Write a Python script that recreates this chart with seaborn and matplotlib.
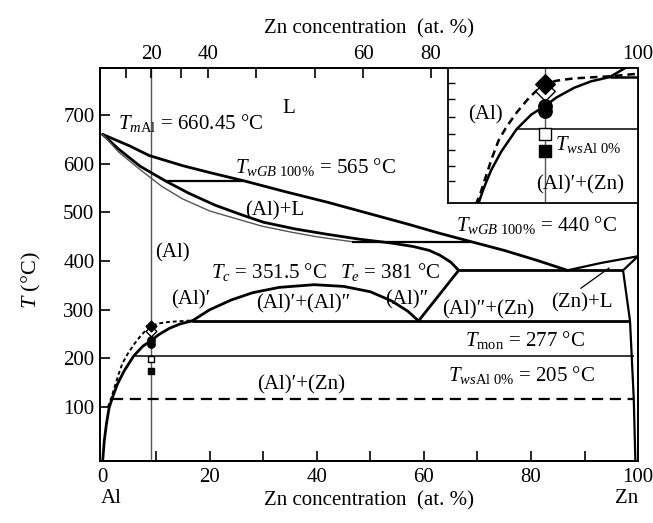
import numpy as np
import pandas as pd
import matplotlib
matplotlib.use("Agg")
import matplotlib.pyplot as plt
import matplotlib.transforms as mtrans
import seaborn as sns

# ---------------- data (Zn at.% , T in °C) ----------------
liq_c = [0, 5, 8.7, 15, 20, 26.4, 34, 42, 50, 57, 63, 68.8, 75, 81, 86.8]
liq_t = [660.45, 637, 617, 596, 582, 565, 543, 521, 497, 476, 457, 440, 422, 402, 381]

sol_c = [0, 3, 7, 11.7, 16, 21, 26, 30, 36, 42, 48, 54, 58, 61, 63, 65, 66.5]
sol_t = [660.45, 630, 595, 565, 540, 515, 495, 480, 466, 455, 445, 437, 430, 422, 412, 398, 381]

gb_c = [0, 3, 7, 11, 14.9, 20, 25, 29.7, 35, 40, 46.5]
gb_t = [660.45, 624, 588, 554, 528, 503, 487, 472, 460, 450, 440]

dome_c = [16.7, 20, 24, 28, 33, 39.5, 45, 50, 54, 57, 59]
dome_t = [277, 300, 320, 335, 346, 351.5, 348, 337, 318, 297, 277]

alpp_c = [59, 66.5]
alpp_t = [277, 381]

znliq_c = [86.8, 93, 100]
znliq_t = [381, 396, 410]

znsol_c = [100, 97.2, 98.5, 99.2, 99.5]
znsol_t = [410, 381, 277, 117, -11]

solv_c = [0, 0.3, 0.7, 1.2, 1.9, 2.8, 4.0, 5.8, 7.5, 9.1, 10.5, 12.5, 14.5, 16.7]
solv_t = [-11, 30, 65, 98, 122, 148, 174, 205, 225, 237, 249, 262, 271, 277]

dot_c = [1.0, 1.6, 2.2, 2.9, 3.7, 4.6, 5.8, 7.0, 8.0, 9.1, 10.5, 12.4, 14.5, 16.7, 18.5, 20.5]
dot_t = [100, 118, 140, 165, 190, 208, 228, 245, 257, 267, 272, 275, 276.5, 278, 280, 282]

# horizontal isotherms: (T, c_start, c_end)
iso_565 = (565, 11.7, 26.4)
iso_440 = (440, 46.5, 68.8)
iso_eut = (381, 66.5, 97.2)
iso_mon = (277, 16.7, 98.5)
iso_ws = (205, 5.8, 99.2)
iso_dash = (117, 1.7, 99.2)

comp_c = 9.1  # sample composition line

mk_kind = ["open_d", "fill_d", "fill_c", "fill_c", "open_s", "fill_s"]
mk_t = [257, 267, 237, 230, 198, 174]

bottom_major = [0, 20, 40, 60, 80, 100]
bottom_minor = [10, 30, 50, 70, 90]
top_tick_c = [4.3, 9.1, 14.7, 19.7, 28.6, 39.6, 48.7, 61.3, 100]
top_tick_lab = ["", "20", "", "40", "", "", "60", "80", "100"]
y_ticks = [100, 200, 300, 400, 500, 600, 700]
inset_yticks = [133, 154, 176, 198, 222, 246, 269]

# ---------------- style ----------------
sns.set_theme(style="ticks")
plt.rcParams['font.family'] = ['Liberation Serif', 'DejaVu Serif']
plt.rcParams.update({
    'mathtext.fontset': 'custom',
    'mathtext.rm': 'Liberation Serif',
    'mathtext.it': 'Liberation Serif:italic',
    'mathtext.bf': 'Liberation Serif:bold',
    'axes.edgecolor': 'black',
    'axes.linewidth': 1.3,
    'xtick.color': 'black',
    'ytick.color': 'black',
    'text.color': 'black',
    'axes.labelcolor': 'black',
})
FS = 15
THICK = 2.0

fig = plt.figure(figsize=(6.53, 5.23), dpi=100)
ax = fig.add_axes([0.1531, 0.1185, 0.8240, 0.7515])


def curve(axis, c, t, lw=THICK, color='black', ls='-', z=3):
    sns.lineplot(x=c, y=t, sort=False, estimator=None, ax=axis,
                 color=color, linewidth=lw, linestyle=ls, zorder=z)


def iso(axis, spec, lw=THICK, color='black', ls='-'):
    T, a, b = spec
    axis.hlines(T, a, b, colors=color, linewidth=lw, linestyles=ls, zorder=3)


def markers(axis, scale):
    df = pd.DataFrame({'c': [comp_c] * len(mk_t), 't': mk_t, 'k': mk_kind})
    styles = {
        'open_d': dict(marker='D', fc='white', s=30),
        'fill_d': dict(marker='D', fc='black', s=30),
        'fill_c': dict(marker='o', fc='black', s=28),
        'open_s': dict(marker='s', fc='white', s=22),
        'fill_s': dict(marker='s', fc='black', s=22),
    }
    for i, row in df.iterrows():
        st = styles[row.k]
        sns.scatterplot(x=[row.c], y=[row.t], ax=axis, marker=st['marker'],
                        s=st['s'] * scale, color=st['fc'], edgecolor='black',
                        linewidth=1.0, zorder=6 + i, legend=False)


# ---------------- main diagram ----------------
curve(ax, liq_c, liq_t)
curve(ax, sol_c, sol_t)
curve(ax, gb_c, gb_t, lw=1.0, color='#555555')
curve(ax, dome_c, dome_t)
curve(ax, alpp_c, alpp_t)
curve(ax, znliq_c, znliq_t, lw=1.6)
curve(ax, znsol_c, znsol_t, lw=1.6)
curve(ax, solv_c, solv_t)
n_main = sum(1 for c in dot_c if c <= iso_mon[1])
curve(ax, dot_c[:n_main], dot_t[:n_main], lw=1.4, ls=(0, (2.0, 1.5)))
iso(ax, iso_565, lw=1.6)
iso(ax, iso_440, lw=1.6)
iso(ax, iso_eut)
iso(ax, iso_mon)
iso(ax, iso_ws, lw=1.1)
iso(ax, iso_dash, lw=1.6, ls=(0, (5, 3)))
ax.axvline(comp_c, color='#555555', linewidth=1.0, zorder=2)
# leader line for (Zn)+L
curve(ax, [89.3, 94.6], [344, 386], lw=0.9)
markers(ax, 1.0)

ax.set_xlim(-0.5, 100)
ax.set_ylim(-11, 797)
ax.set_xticks(bottom_major)
ax.set_xticklabels([str(v) for v in bottom_major])
ax.set_xticks(bottom_minor, minor=True)
ax.set_yticks(y_ticks)
ax.set_yticklabels([str(v) for v in y_ticks])
ax.tick_params(axis='both', which='both', direction='in', length=7, width=1.2,
               labelsize=FS, top=False, right=False)
ax.tick_params(axis='x', which='major', pad=5)
ax.tick_params(axis='y', pad=4)
ax.set_ylabel("$T$ (°C)", fontsize=FS + 1, labelpad=12)
ax.yaxis.set_label_coords(-0.105, 0.46)
ax.set_xlabel("Zn concentration  (at. %)", fontsize=FS, labelpad=3)
trans = mtrans.blended_transform_factory(ax.transData, ax.transAxes)
ax.text(-0.3, -0.095, "Al", transform=trans, ha='left', va='center', fontsize=FS)
ax.text(100, -0.095, "Zn", transform=trans, ha='right', va='center', fontsize=FS)
for s in ax.spines.values():
    s.set_linewidth(1.3)

ax2 = ax.twiny()
ax2.set_xlim(ax.get_xlim())
ax2.set_xticks(top_tick_c)
ax2.set_xticklabels(top_tick_lab)
ax2.tick_params(axis='x', direction='in', length=7, width=1.2, labelsize=FS, pad=3)
ax2.set_xlabel("Zn concentration  (at. %)", fontsize=FS, labelpad=8)
ax2.grid(False)

# annotations
txt = [
    (34.8, 714, "L", 'center'),
    (2.8, 683, r"$T_{m\mathrm{Al}}$ = 660.45 °C", 'left'),
    (24.7, 593, r"$T_{wGB\ \mathrm{100\%}}$ = 565 °C", 'left'),
    (32.2, 504, "(Al)+L", 'center'),
    (13.0, 416, "(Al)", 'center'),
    (31.1, 377, r"$T_c$ = 351.5 °C", 'center'),
    (53.7, 377, r"$T_e$ = 381 °C", 'center'),
    (16.4, 320, "(Al)\u2032", 'center'),
    (37.5, 313, "(Al)\u2032+(Al)\u2033", 'center'),
    (56.9, 320, "(Al)\u2033", 'center'),
    (72.1, 299, "(Al)\u2033+(Zn)", 'center'),
    (89.6, 315, "(Zn)+L", 'center'),
    (66.0, 474, r"$T_{wGB\ \mathrm{100\%}}$ = 440 °C", 'left'),
    (78.8, 237, r"$T_{\mathrm{mon}}$ = 277 °C", 'center'),
    (78.3, 166, r"$T_{ws\mathrm{Al\ 0\%}}$ = 205 °C", 'center'),
    (37.0, 145, "(Al)\u2032+(Zn)", 'center'),
]
for x, y, s, ha in txt:
    ax.text(x, y, s, ha=ha, va='center', fontsize=FS, zorder=8)

# ---------------- inset (magnified low-Zn solvus region) ----------------
axi = fig.add_axes([0.6861, 0.6119, 0.2910, 0.2581])
axi.set_facecolor('white')
curve(axi, solv_c, solv_t, lw=1.8)
curve(axi, dot_c, dot_t, lw=1.8, ls=(0, (3, 2)))
curve(axi, dome_c, dome_t, lw=1.8)
iso(axi, iso_mon, lw=1.8)
iso(axi, iso_ws, lw=1.1)
axi.axvline(comp_c, color='#555555', linewidth=1.0, zorder=2)
markers(axi, 3.3)
axi.set_xlim(-2.25, 20.0)
axi.set_ylim(102.5, 289.5)
axi.set_xticks([])
axi.set_yticks(inset_yticks)
axi.set_yticklabels([])
axi.tick_params(axis='y', direction='in', length=5, width=1.0, left=True)
axi.set_xlabel("")
axi.set_ylabel("")
for s in axi.spines.values():
    s.set_linewidth(1.3)
axi.text(2.1, 224, "(Al)", ha='center', va='center', fontsize=FS, zorder=8)
axi.text(10.3, 183, r"$T_{ws\mathrm{Al\ 0\%}}$", ha='left', va='center', fontsize=FS, zorder=8)
axi.text(13.2, 127, "(Al)\u2032+(Zn)", ha='center', va='center', fontsize=FS, zorder=8)

fig.savefig("out.png", dpi=100)
